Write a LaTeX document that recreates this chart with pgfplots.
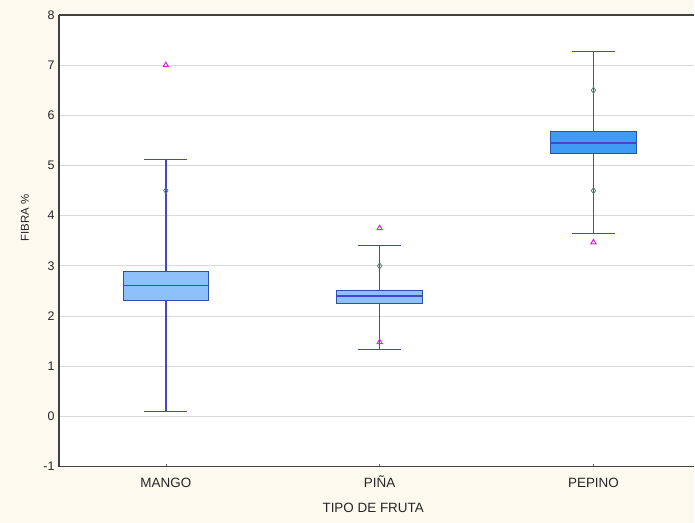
\documentclass[border=0pt]{standalone}
\usepackage{fontspec}
\setmainfont{Liberation Sans}
\usepackage{pgfplots}
\pgfplotsset{compat=1.18}
\usepgfplotslibrary{statistics}
\definecolor{cream}{HTML}{FDF9EE}
\definecolor{boxlight}{HTML}{8EC0FC}
\definecolor{boxdark}{HTML}{3F9BF3}
\definecolor{boxedge}{HTML}{2D4FB0}
\definecolor{whisk}{HTML}{4646CC}
\definecolor{outl}{HTML}{CC33CC}
\definecolor{meanc}{HTML}{4A7A70}
\begin{document}
\begin{tikzpicture}
\fill[cream] (-59bp,-56bp) rectangle (636bp,467bp);
\begin{axis}[
  at={(0,0)}, anchor=south west,
  scale only axis, width=636bp, height=452bp,
  xmin=0.5, xmax=3.472, ymin=-1, ymax=8,
  axis x line*=box, axis y line*=left,
  axis line style={draw=black!75, line width=1.2pt},
  axis background/.style={fill=white},
  xtick={1,2,3}, xticklabels={MANGO, PIÑA, PEPINO},
  ytick={-1,0,...,8},
  ymajorgrids, grid style={black!15, line width=0.8pt},
  tick align=inside, major tick length=3bp,
  xtick pos=left,
  x tick style={draw=black!60, line width=0.6pt},
  ytick style={draw=none},
  yticklabel style={font=\fontsize{12.5}{14}\selectfont, xshift=-1bp, text=black!85},
  /pgf/number format/assume math mode=true,
  xticklabel style={font=\fontsize{13.5}{15}\selectfont, anchor=base, yshift=-21bp, text=black!85},
  every axis x label/.style={at={(axis description cs:0.4945,0)}, anchor=base, yshift=-46bp, font=\fontsize{13.5}{15}\selectfont, text=black!85},
  every axis y label/.style={at={(axis description cs:-0.0535,0.55)}, rotate=90, anchor=center, font=\fontsize{11.5}{13}\selectfont, text=black!85},
  xlabel={TIPO DE FRUTA},
  ylabel={FIBRA \%},
  unbounded coords=jump,
  boxplot/draw direction=y,
  boxplot/box extend=0.40,
  boxplot/whisker extend=0,
]
% whiskers (lower, upper, caps)
\addplot[whisk, line width=1.4pt] coordinates {(1,0.10) (1,2.31) (1,nan) (1,2.88) (1,5.12) (1,nan) (0.9,0.10) (1.1,0.10) (1,nan) (0.9,5.12) (1.1,5.12)};
\addplot[whisk, line width=1.4pt] coordinates {(2,1.33) (2,2.25) (2,nan) (2,2.50) (2,3.41) (2,nan) (1.9,1.33) (2.1,1.33) (2,nan) (1.9,3.41) (2.1,3.41)};
\addplot[whisk, line width=1.4pt] coordinates {(3,3.64) (3,5.24) (3,nan) (3,5.67) (3,7.27) (3,nan) (2.9,3.64) (3.1,3.64) (3,nan) (2.9,7.27) (3.1,7.27)};
% boxes with median
\addplot[draw=boxedge, fill=boxlight, line width=1pt, boxplot prepared={draw position=1, lower whisker=2.31, lower quartile=2.31, median=2.61, upper quartile=2.88, upper whisker=2.88, every median/.style={draw=whisk, line width=1.3pt}}] coordinates {};
\addplot[draw=boxedge, fill=boxlight, line width=1pt, boxplot prepared={draw position=2, lower whisker=2.25, lower quartile=2.25, median=2.40, upper quartile=2.50, upper whisker=2.50, every median/.style={draw=whisk, line width=1.3pt}}] coordinates {};
\addplot[draw=boxedge, fill=boxdark, line width=1pt, boxplot prepared={draw position=3, lower whisker=5.24, lower quartile=5.24, median=5.45, upper quartile=5.67, upper whisker=5.67, every median/.style={draw=whisk, line width=1.3pt}}] coordinates {};
% diamonds
\addplot[only marks, mark=diamond, mark size=3bp, draw=meanc, mark options={line width=0.7pt, fill=white}] coordinates {(1,4.5) (2,3.0) (3,6.5) (3,4.5)};
% triangles
\addplot[only marks, mark=triangle, mark size=3bp, draw=outl, mark options={line width=1pt}] coordinates {(1,7.0) (2,3.75) (2,1.48) (3,3.47)};
\end{axis}
\end{tikzpicture}
\end{document}
